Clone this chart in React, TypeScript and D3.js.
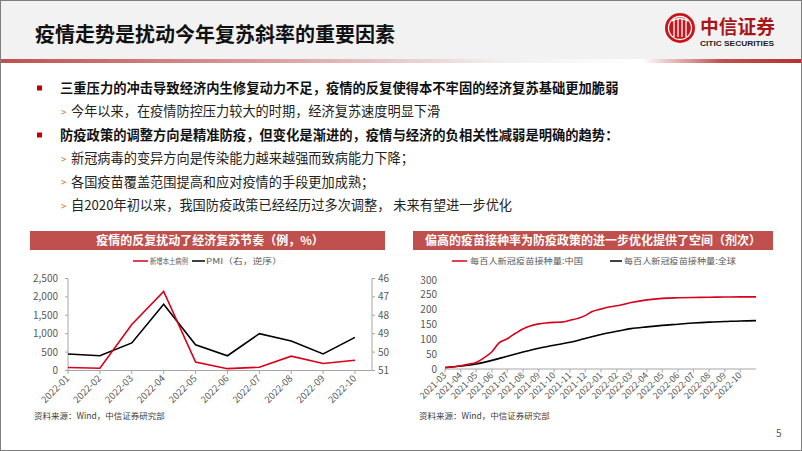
import React from "react";
import * as d3 from "d3";

const pageTitle = "疫情走势是扰动今年复苏斜率的重要因素";
const bullets = [
  { level: 0, text: "三重压力的冲击导致经济内生修复动力不足，疫情的反复使得本不牢固的经济复苏基础更加脆弱" },
  { level: 1, text: "今年以来，在疫情防控压力较大的时期，经济复苏速度明显下滑" },
  { level: 0, text: "防疫政策的调整方向是精准防疫，但变化是渐进的，疫情与经济的负相关性减弱是明确的趋势：" },
  { level: 1, text: "新冠病毒的变异方向是传染能力越来越强而致病能力下降；" },
  { level: 1, text: "各国疫苗覆盖范围提高和应对疫情的手段更加成熟；" },
  { level: 1, text: "自2020年初以来，我国防疫政策已经经历过多次调整， 未来有望进一步优化" },
];

// Left chart
const leftTitle = "疫情的反复扰动了经济复苏节奏（例，%）";
const months = ["2022-01", "2022-02", "2022-03", "2022-04", "2022-05", "2022-06", "2022-07", "2022-08", "2022-09", "2022-10"];
const newCases = [80, 60, 1250, 2150, 230, 50, 90, 390, 190, 280];
const pmi = [50.1, 50.2, 49.5, 47.4, 49.6, 50.2, 49.0, 49.4, 50.1, 49.2];
const leftTicks = [0, 500, 1000, 1500, 2000, 2500];
const pmiTicks = [46, 47, 48, 49, 50, 51];
const leftSeriesNames = ["新增本土病例", "PMI（右，逆序）"];

// Right chart
const rightTitle = "偏高的疫苗接种率为防疫政策的进一步优化提供了空间（剂次）";
const vaxDatesChina = [
  "2021-03-01", "2021-04-01", "2021-04-15", "2021-05-01", "2021-05-15", "2021-06-01", "2021-06-15",
  "2021-07-01", "2021-07-15", "2021-08-01", "2021-08-15", "2021-09-01", "2021-09-15", "2021-10-01",
  "2021-10-15", "2021-11-01", "2021-12-01", "2021-12-15", "2022-01-01", "2022-01-12", "2022-02-01",
  "2022-03-01", "2022-04-01", "2022-05-01", "2022-06-01", "2022-07-01", "2022-08-01", "2022-09-01",
  "2022-10-01", "2022-11-01",
];
const vaxChina = [
  4, 11, 16, 22, 36, 58, 88, 102, 118, 135, 145, 152, 155, 157,
  158, 164, 180, 194, 202, 207, 213, 224, 233, 238, 240, 241, 242, 242.5, 243, 243,
];
const vaxDatesGlobal = [
  "2021-03-01", "2021-04-01", "2021-05-01", "2021-06-01", "2021-07-01", "2021-08-01", "2021-09-01",
  "2021-10-01", "2021-11-01", "2021-12-01", "2022-01-01", "2022-02-01", "2022-03-01", "2022-04-01",
  "2022-05-01", "2022-06-01", "2022-07-01", "2022-08-01", "2022-09-01", "2022-10-01", "2022-11-01",
];
const vaxGlobal = [5, 10, 17, 29, 43, 57, 70, 80, 90, 103, 116, 127, 136, 142, 147, 151, 155, 158, 160, 162, 163];
const rightTicks = [0, 50, 100, 150, 200, 250, 300];
const rightSeriesNames = ["每百人新冠疫苗接种量:中国", "每百人新冠疫苗接种量:全球"];

const sourceText = "资料来源：Wind，中信证券研究部";

const FONT = "'Noto Sans CJK SC', 'Noto Sans', sans-serif";
const BAR_RED = "#c0504d";
const LINE_RED = "#d9001b";
const AXIS = "#a6a6a6";
const LABEL = "#595959";

function LeftChart() {
  const x = d3.scalePoint<string>().domain(months).range([68, 355]);
  const y = d3.scaleLinear().domain([0, 2500]).range([370.5, 278.5]);
  const yr = d3.scaleLinear().domain([46, 51]).range([278.5, 370.5]);
  const rightX = 372;
  const fmt = d3.format(",");
  const redLine = d3.line<number>().x((_, i) => x(months[i])!).y((d) => y(d));
  const pmiLine = d3.line<number>().x((_, i) => x(months[i])!).y((d) => yr(d));
  return (
    <g fontFamily={FONT}>
      <rect x={30} y={231} width={355} height={19} fill={BAR_RED} />
      <text x={210} y={245} textAnchor="middle" fill="#fff" fontSize={12} fontWeight="bold">{leftTitle}</text>
      {/* legend */}
      <line x1={133} x2={148} y1={261} y2={261} stroke={LINE_RED} strokeWidth={1.5} />
      <text x={150} y={264} fontSize={8} fill={LABEL} textLength={38} lengthAdjust="spacingAndGlyphs">{leftSeriesNames[0]}</text>
      <line x1={192} x2={205} y1={261} y2={261} stroke="#000" strokeWidth={1.5} />
      <text x={206} y={264} fontSize={8} fill={LABEL} textLength={76} lengthAdjust="spacingAndGlyphs">{leftSeriesNames[1]}</text>
      {/* axes */}
      <line x1={68} x2={68} y1={278.5} y2={370.5} stroke={AXIS} />
      {leftTicks.map((t) => (
        <g key={t}>
          <line x1={65} x2={68} y1={y(t)} y2={y(t)} stroke={AXIS} />
          <text x={58} y={y(t) + 3.5} textAnchor="end" fontSize={10} fill={LABEL}>{fmt(t)}</text>
        </g>
      ))}
      <line x1={rightX} x2={rightX} y1={278.5} y2={370.5} stroke={AXIS} />
      {pmiTicks.map((t) => (
        <g key={t}>
          <line x1={rightX} x2={rightX + 3} y1={yr(t)} y2={yr(t)} stroke={AXIS} />
          <text x={rightX + 6} y={yr(t) + 3.5} fontSize={10} fill={LABEL}>{t}</text>
        </g>
      ))}
      <line x1={68} x2={rightX} y1={370.5} y2={370.5} stroke={AXIS} />
      {months.map((m) => (
        <g key={m}>
          <line x1={x(m)} x2={x(m)} y1={370.5} y2={374} stroke={AXIS} />
          <text transform={`translate(${x(m)! + 2},${379}) rotate(-45)`} textAnchor="end" fontSize={9.5} fill={LABEL}>{m}</text>
        </g>
      ))}
      <path d={pmiLine(pmi)!} fill="none" stroke="#000" strokeWidth={1.6} />
      <path d={redLine(newCases)!} fill="none" stroke={LINE_RED} strokeWidth={1.6} />
      <text x={34} y={419} fontSize={8.5} fill="#404040">{sourceText}</text>
    </g>
  );
}

function RightChart() {
  const parse = d3.timeParse("%Y-%m-%d");
  const x = d3.scaleTime().domain([parse("2021-03-01")!, parse("2022-11-01")!]).range([445, 756]);
  const y = d3.scaleLinear().domain([0, 300]).range([369, 280]);
  const ticks = d3.timeMonth.range(parse("2021-03-01")!, parse("2022-11-01")!);
  const fmt = d3.timeFormat("%Y-%m");
  const line = d3.line<[Date, number]>().x((d) => x(d[0])).y((d) => y(d[1])).curve(d3.curveMonotoneX);
  const china = vaxDatesChina.map((d, i) => [parse(d)!, vaxChina[i]] as [Date, number]);
  const global = vaxDatesGlobal.map((d, i) => [parse(d)!, vaxGlobal[i]] as [Date, number]);
  return (
    <g fontFamily={FONT}>
      <rect x={413} y={231} width={360} height={19} fill={BAR_RED} />
      <text x={593} y={245} textAnchor="middle" fill="#fff" fontSize={12} fontWeight="bold">{rightTitle}</text>
      <line x1={452} x2={467} y1={261} y2={261} stroke={LINE_RED} strokeWidth={1.5} />
      <text x={470} y={264} fontSize={8.5} fill={LABEL} textLength={113} lengthAdjust="spacingAndGlyphs">{rightSeriesNames[0]}</text>
      <line x1={610} x2={622} y1={261} y2={261} stroke="#000" strokeWidth={1.5} />
      <text x={624} y={264} fontSize={8.5} fill={LABEL} textLength={112} lengthAdjust="spacingAndGlyphs">{rightSeriesNames[1]}</text>
      {rightTicks.map((t) => (
        <text key={t} x={437} y={y(t) + 3.5} textAnchor="end" fontSize={10} fill={LABEL}>{t}</text>
      ))}
      <line x1={445} x2={756} y1={369} y2={369} stroke={AXIS} />
      {ticks.map((d) => (
        <g key={+d}>
          <line x1={x(d)} x2={x(d)} y1={369} y2={372.5} stroke={AXIS} />
          <text transform={`translate(${x(d) + 2},${376}) rotate(-45)`} textAnchor="end" fontSize={9} fill={LABEL}>{fmt(d)}</text>
        </g>
      ))}
      <path d={line(global)!} fill="none" stroke="#000" strokeWidth={1.6} />
      <path d={line(china)!} fill="none" stroke={LINE_RED} strokeWidth={1.6} />
      <text x={419} y={419} fontSize={8.5} fill="#404040">{sourceText}</text>
    </g>
  );
}

function Header() {
  return (
    <g fontFamily={FONT}>
      <defs>
        <linearGradient id="hdrLine" x1="0" x2="1" y1="0" y2="0">
          <stop offset="0" stopColor="#c0504d" />
          <stop offset="0.35" stopColor="#dba3a2" />
          <stop offset="0.62" stopColor="#f4eded" />
          <stop offset="0.8" stopColor="#ffffff" />
          <stop offset="0.9" stopColor="#c0504d" />
          <stop offset="1" stopColor="#b8312f" />
        </linearGradient>
      </defs>
      <rect x={0} y={0} width={802} height={59} fill="#f2f2f2" />
      <rect x={0} y={59} width={802} height={4} fill="url(#hdrLine)" />
      <text x={35} y={42} fontSize={20} fontWeight="bold" fill="#111">{pageTitle}</text>
      {/* logo */}
      <circle cx={680} cy={28} r={15} fill="#c8161d" />
      <circle cx={680} cy={28} r={11.5} fill="none" stroke="#fff" strokeWidth={1.3} />
      {[-6, -2, 2, 6].map((dx) => (
        <line key={dx} x1={680 + dx} x2={680 + dx} y1={19} y2={37} stroke="#fff" strokeWidth={1.3} />
      ))}
      <path d="M672,21 Q680,16 688,21" fill="none" stroke="#fff" strokeWidth={1.3} />
      <text x={700} y={34} fontSize={19} fontWeight="bold" fill="#a8161c" textLength={75} lengthAdjust="spacingAndGlyphs">中信证券</text>
      <text x={700} y={46} fontSize={8} fontWeight="bold" fill="#222" fontFamily="'Liberation Sans Narrow', 'Liberation Sans', sans-serif" textLength={74} lengthAdjust="spacingAndGlyphs">CITIC SECURITIES</text>
    </g>
  );
}

function Bullets() {
  const ys = [88, 111.5, 135, 158.5, 182, 205.5];
  return (
    <g fontFamily={FONT}>
      {bullets.map((b, i) =>
        b.level === 0 ? (
          <g key={i}>
            <rect x={37} y={ys[i] - 2.5} width={5} height={5} fill="#c00000" />
            <text x={60} y={ys[i] + 4.5} fontSize={13.3} fontWeight="bold" fill="#111">{b.text}</text>
          </g>
        ) : (
          <g key={i}>
            <text x={61} y={ys[i] + 4} fontSize={10} fill="#e07020">{">"}</text>
            <text x={71} y={ys[i] + 4.5} fontSize={13.2} fill="#222">{b.text}</text>
          </g>
        )
      )}
    </g>
  );
}

export default function App() {
  return (
    <svg
      width={802}
      height={451}
      viewBox="0 0 802 451"
      style={{ position: "absolute", left: 0, top: 0, background: "#fff" }}
    >
      <rect x={0} y={0} width={802} height={451} fill="#fff" />
      <Header />
      <Bullets />
      <LeftChart />
      <RightChart />
      <text x={776} y={437} fontSize={10} fill="#595959" fontFamily={FONT}>5</text>
      <rect x={0.5} y={0.5} width={801} height={450} fill="none" stroke="#7f7f7f" />
    </svg>
  );
}
